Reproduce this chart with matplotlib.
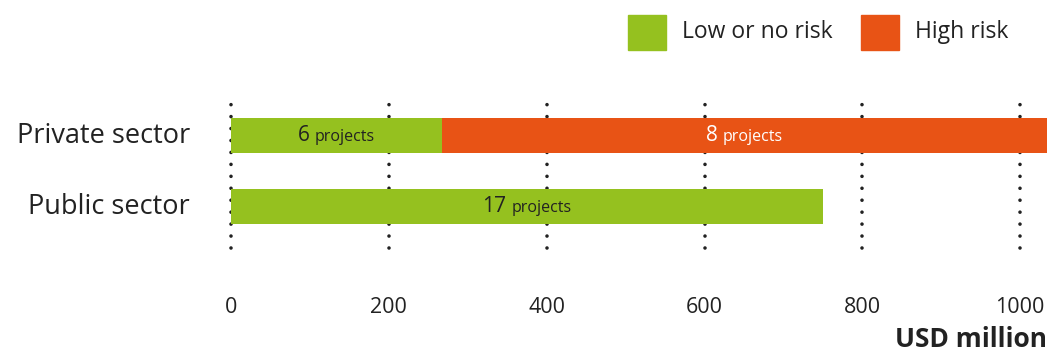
import matplotlib
matplotlib.use("Agg")
import matplotlib.pyplot as plt
from matplotlib.offsetbox import TextArea, HPacker, AnnotationBbox
from matplotlib.patches import Rectangle

plt.rcParams['font.family'] = ['Open Sans', 'DejaVu Sans']
plt.rcParams['lines.scale_dashes'] = False

categories = ["Public sector", "Private sector"]
low_risk = [750, 267]
high_risk = [0, 767]
low_projects = [17, 6]
high_projects = [0, 8]
ticks = [0, 200, 400, 600, 800, 1000]
series_names = ["Low or no risk", "High risk"]

GREEN = "#95C11F"
ORANGE = "#E85315"
DARK = "#222222"

W, H = 1050, 355
fig = plt.figure(figsize=(W / 100, H / 100), dpi=100)
ax = fig.add_axes([231 / W, 1 - 248 / H, (1047 - 231) / W, (248 - 93) / H])
ax.set_xlim(0, 1034)
ax.set_ylim(-0.585, 1.6)
for s in ax.spines.values():
    s.set_visible(False)
ax.set_yticks([])
ax.set_xticks([])

# dotted gridlines
for t in ticks:
    ax.plot([t, t], [-0.585, 1.6], color=DARK, lw=2.6, dashes=[0.001, 8.6],
            dash_capstyle='round', solid_capstyle='round', zorder=1, clip_on=False)

ypos = list(range(len(categories)))
bh = 0.49
ax.barh(ypos, low_risk, height=bh, color=GREEN, zorder=2, label=series_names[0])
ax.barh(ypos, high_risk, left=low_risk, height=bh, color=ORANGE, zorder=2, label=series_names[1])


def add_label(x, y, n, color):
    big = TextArea(str(n), textprops=dict(fontsize=15, color=color))
    small = TextArea("projects", textprops=dict(fontsize=11.5, color=color))
    pack = HPacker(children=[big, small], align="baseline", pad=0, sep=4)
    ab = AnnotationBbox(pack, (x, y), frameon=False, box_alignment=(0.5, 0.5), zorder=5)
    ax.add_artist(ab)


for i in ypos:
    if low_risk[i] > 0:
        add_label(low_risk[i] / 2, i, low_projects[i], DARK)
    if high_risk[i] > 0:
        add_label(low_risk[i] + high_risk[i] / 2, i, high_projects[i], "white")

# category labels
for i, c in zip(ypos, categories):
    fig.text(190 / W, ax.transData.transform((0, i))[1] / H, c, ha='right', va='center',
             fontsize=19.5, color=DARK)

# tick labels
for t in ticks:
    ax.text(t, -1.42, str(t), ha='center', va='center', fontsize=15.5, color=DARK)

fig.text(1047 / W, 1 - 347 / H, "USD million", ha='right', va='baseline',
         fontsize=19, fontweight='bold', color=DARK)

# legend
leg = [(628, GREEN, series_names[0], 682), (861, ORANGE, series_names[1], 915)]
for x0, col, name, tx in leg:
    fig.patches.append(Rectangle((x0 / W, 1 - 50 / H), 38 / W, 35 / H,
                                 transform=fig.transFigure, color=col))
    fig.text(tx / W, 1 - 32.5 / H, name, ha='left', va='center', fontsize=16.5, color=DARK)

fig.savefig("out.png", dpi=100)
